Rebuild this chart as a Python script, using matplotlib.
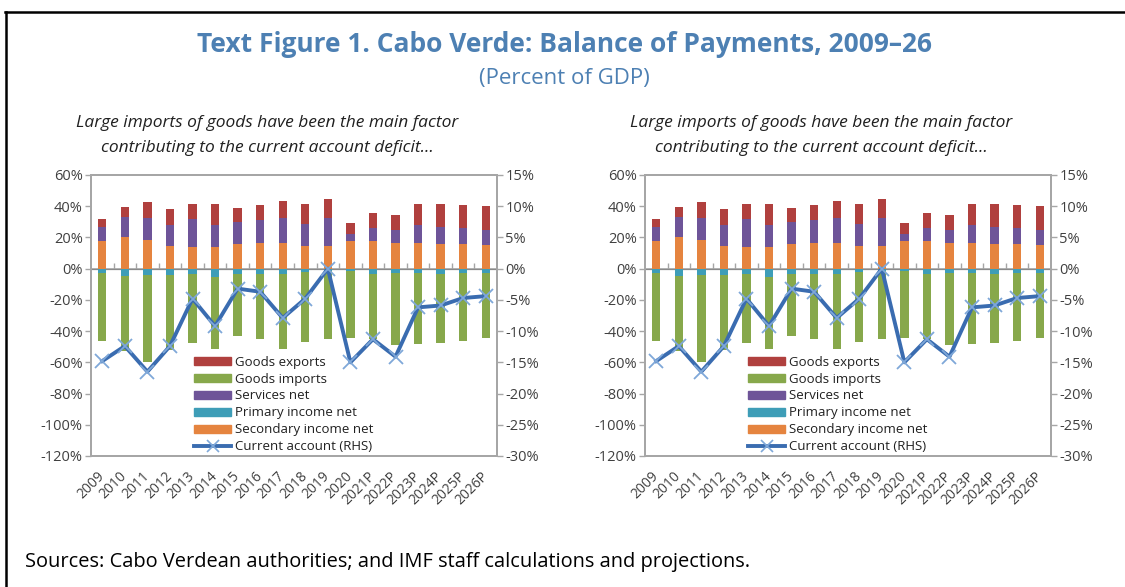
import numpy as np
import matplotlib
matplotlib.use("Agg")
import matplotlib.pyplot as plt
from matplotlib.lines import Line2D
from matplotlib.patches import Patch
from matplotlib.ticker import FuncFormatter, NullFormatter

plt.rcParams['font.family'] = ['Open Sans', 'DejaVu Sans']

# DATA (percent of GDP)
years = ['2009', '2010', '2011', '2012', '2013', '2014', '2015', '2016', '2017',
         '2018', '2019', '2020', '2021P', '2022P', '2023P', '2024P', '2025P', '2026P']
secondary_income = [17.8, 20.3, 18.6, 14.6, 14.0, 14.0, 15.6, 16.7, 16.7,
                    14.6, 14.8, 18.0, 17.8, 16.7, 16.7, 15.9, 15.6, 15.0]
services_net = [9.2, 12.5, 13.8, 13.5, 17.7, 14.1, 14.0, 14.4, 15.7,
                14.0, 17.6, 4.2, 8.0, 8.1, 11.4, 11.1, 10.4, 9.8]
goods_exports = [4.7, 6.8, 10.3, 10.0, 10.0, 13.6, 9.5, 9.7, 11.0,
                 13.1, 12.4, 7.0, 9.8, 9.7, 13.6, 14.3, 14.8, 15.4]
primary_income = [-2.8, -4.7, -4.3, -4.3, -3.6, -5.3, -3.6, -3.6, -3.6,
                  -2.3, -1.5, -1.7, -3.4, -2.5, -2.5, -3.2, -2.5, -2.5]
goods_imports = [-43.7, -48.2, -55.5, -47.9, -43.8, -46.3, -39.5, -41.6, -48.0,
                 -44.7, -43.7, -42.7, -41.8, -46.2, -45.7, -44.2, -43.6, -41.9]
current_account = [-14.8, -12.4, -16.5, -12.4, -4.8, -9.2, -3.2, -3.7, -7.9,
                   -4.8, 0.0, -15.0, -11.3, -14.1, -6.2, -5.9, -4.7, -4.4]

panel_title = ("Large imports of goods have been the main factor\n"
               "contributing to the current account deficit...")

# colours
c_exp = '#B0403E'
c_imp = '#87A84B'
c_srv = '#6E5498'
c_pri = '#3E9DB7'
c_sec = '#E5843F'
c_ca = '#3A6CB0'
c_mk = '#7FA8D9'
grid_gray = '#A6A6A6'
txt_gray = '#404040'
blue_title = '#4D80B3'

fig = plt.figure(figsize=(11.25, 5.87), dpi=100)


def draw_panel(left):
    ax = fig.add_axes([left, 0.2232, 0.3609, 0.4787])
    x = np.arange(len(years))
    w = 0.37
    sec = np.array(secondary_income)
    srv = np.array(services_net)
    ax.bar(x, sec, w, color=c_sec, zorder=2)
    ax.bar(x, srv, w, bottom=sec, color=c_srv, zorder=2)
    ax.bar(x, goods_exports, w, bottom=sec + srv, color=c_exp, zorder=2)
    pri = np.array(primary_income)
    ax.bar(x, pri, w, color=c_pri, zorder=2)
    ax.bar(x, goods_imports, w, bottom=pri, color=c_imp, zorder=2)

    ax.set_xlim(-0.5, len(years) - 0.5)
    ax.set_ylim(-120, 60)
    ax.set_yticks(np.arange(-120, 61, 20))
    ax.yaxis.set_major_formatter(FuncFormatter(lambda v, p: f'{v:.0f}%'))
    ax.set_xticks(x)
    ax.set_xticklabels(years, rotation=45, ha='right', va='center',
                       rotation_mode='anchor')
    ax.tick_params(axis='x', length=0, pad=13, labelsize=10, labelcolor=txt_gray)
    ax.tick_params(axis='y', length=4, width=1, color=grid_gray,
                   labelsize=10.5, labelcolor=txt_gray, pad=2)
    for s in ax.spines.values():
        s.set_color(grid_gray)
        s.set_linewidth(1.3)

    # category axis at zero
    ax.axhline(0, color=grid_gray, lw=1.2, zorder=1)
    zero_frac = (0 - ax.get_ylim()[0]) / (ax.get_ylim()[1] - ax.get_ylim()[0])
    cat = ax.secondary_xaxis(zero_frac)
    cat.set_xticks(x[:-1] + 0.5)
    cat.xaxis.set_major_formatter(NullFormatter())
    cat.tick_params(length=4, width=1, color=grid_gray)
    cat.spines['bottom'].set_visible(False)

    ax2 = ax.twinx()
    ax2.plot(x, current_account, color=c_ca, lw=2.8, marker='x', ms=10,
             mec=c_mk, mew=1.3, zorder=3)
    ax2.set_ylim(-30, 15)
    ax2.set_yticks(np.arange(-30, 16, 5))
    ax2.yaxis.set_major_formatter(FuncFormatter(lambda v, p: f'{v:.0f}%'))
    ax2.tick_params(axis='y', length=4, width=1, color=grid_gray,
                    labelsize=10.5, labelcolor=txt_gray, pad=2)
    for s in ax2.spines.values():
        s.set_color(grid_gray)
        s.set_linewidth(1.3)

    handles = [Patch(color=c_exp), Patch(color=c_imp), Patch(color=c_srv),
               Patch(color=c_pri), Patch(color=c_sec),
               Line2D([], [], color=c_ca, lw=2.8, marker='x', ms=8, mec=c_mk, mew=1.2)]
    labels = ['Goods exports', 'Goods imports', 'Services net',
              'Primary income net', 'Secondary income net', 'Current account (RHS)']
    leg = ax2.legend(handles, labels, loc='lower left', bbox_to_anchor=(0.248, 0.0),
                     frameon=False, fontsize=9.5, handlelength=2.8, handleheight=0.6,
                     handletextpad=0.25, labelspacing=0.3, borderpad=0.2,
                     borderaxespad=0.0)
    for t in leg.get_texts():
        t.set_color('#202020')

    fig.text(left + 0.1564, 0.770, panel_title, ha='center', va='center',
             fontsize=12.5, style='italic', color='#202020', linespacing=1.75)
    return ax


draw_panel(0.0809)
draw_panel(0.5733)

fig.text(0.502, 0.925, 'Text Figure 1. Cabo Verde: Balance of Payments, 2009\u201326',
         ha='center', va='center', fontsize=19, fontweight='bold', color=blue_title)
fig.text(0.502, 0.867, '(Percent of GDP)', ha='center', va='center',
         fontsize=16, color=blue_title)
fig.text(0.022, 0.043, 'Sources: Cabo Verdean authorities; and IMF staff calculations and projections.',
         ha='left', va='center', fontsize=14.4, color='black')

# outer frame (top and left edges)
fig.add_artist(Line2D([0.004, 1.0], [0.979, 0.979], color='black', lw=1.8,
                      transform=fig.transFigure))
fig.add_artist(Line2D([0.005, 0.005], [0.0, 0.979], color='black', lw=1.8,
                      transform=fig.transFigure))

fig.savefig('out.png', dpi=100)
